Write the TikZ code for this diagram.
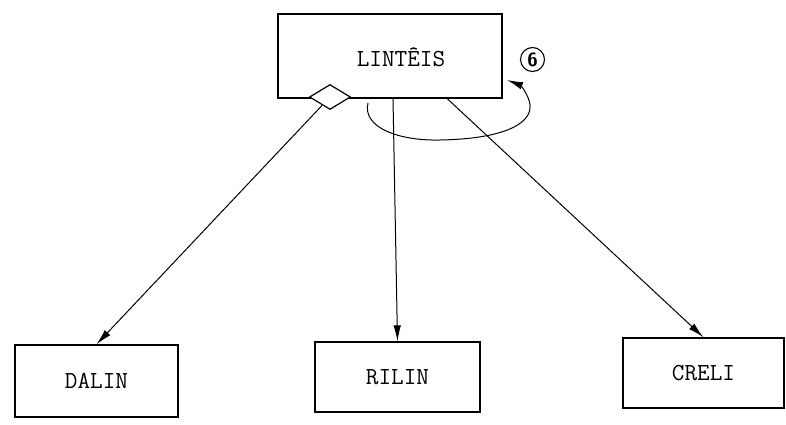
\documentclass[tikz,border=0pt]{standalone}
\usepackage{fontspec}
\usetikzlibrary{arrows.meta,shapes.geometric,calc}

\tikzset{
  entity/.style={draw, line width=1.3pt, rectangle, inner sep=0pt,
    font=\ttfamily\fontsize{24.5}{28}\selectfont},
  link/.style={line width=1pt, -{Latex[length=16pt,width=7.5pt]}},
  agg/.style={draw, line width=1.2pt, diamond, fill=white, inner sep=0pt,
    minimum width=41pt, minimum height=25pt},
  tag/.style={draw, circle, line width=1.1pt, inner sep=0pt, minimum size=24pt,
    font=\sffamily\bfseries\fontsize{19}{21}\selectfont}
}

\begin{document}
\begin{tikzpicture}[x=1pt,y=-1pt]
  \useasboundingbox (0,0) rectangle (786,425);

  % entities
  \node[entity, minimum width=224pt, minimum height=84pt] (lint) at (390,56) {};
  \node[font=\ttfamily\fontsize{24.5}{28}\selectfont] (lintlbl) at (401,57) {LINTÊIS};
  \node[entity, minimum width=163pt, minimum height=72pt] (dalin) at (96.5,381) {DALIN};
  \node[entity, minimum width=165pt, minimum height=70pt] (rilin) at (397.5,377) {RILIN};
  \node[entity, minimum width=161pt, minimum height=70pt] (creli) at (703.5,373) {CRELI};

  % aggregation diamond on the lower edge
  \node[agg] (dia) at (330,97) {};

  % connectors
  \draw[link] (dia) -- (dalin.north);
  \coordinate (rilinstart) at ($(lint.south)+(3,0)$);
  \draw[link] (rilinstart) -- (rilin.north);
  \coordinate (crelistart) at ($(lint.south west)!0.754!(lint.south east)$);
  \draw[link] (crelistart) -- (creli.north);

  % recursive relationship
  \coordinate (loopstart) at (368,103);
  \coordinate (loopend) at (507,80);
  \draw[link] (loopstart) .. controls (362,128) and (400,141) .. (440,140)
    .. controls (500,139) and (532,125) .. (530,105)
    .. controls (529,95) and (520,85) .. (loopend);

  \node[tag] (six) at (532.5,59.5) {6};
\end{tikzpicture}
\end{document}
